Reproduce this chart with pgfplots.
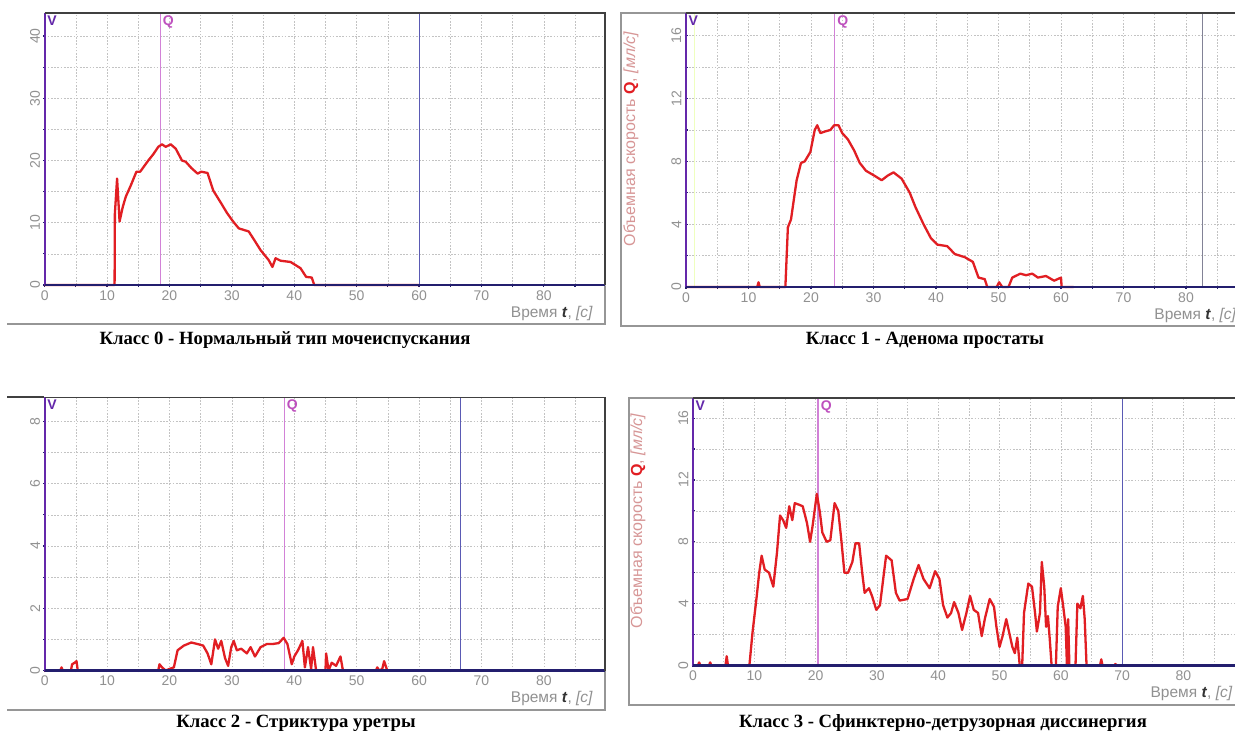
\documentclass[border=0pt]{standalone}
\usepackage{fontspec}
\setmainfont{Liberation Serif}
\newfontfamily\arial{Liberation Sans}
\usepackage{pgfplots}
\pgfplotsset{compat=1.18}
\definecolor{axpurple}{RGB}{100,40,170}
\definecolor{axnavy}{RGB}{35,30,110}
\definecolor{curvec}{RGB}{225,30,35}
\definecolor{qline}{RGB}{210,130,215}
\definecolor{qtext}{RGB}{190,80,190}
\definecolor{vline}{RGB}{90,90,180}
\definecolor{gline}{RGB}{130,130,150}
\definecolor{ticktext}{RGB}{145,145,145}
\definecolor{ylab}{RGB}{215,150,150}
\definecolor{gridc}{RGB}{195,195,195}
\definecolor{framec}{RGB}{150,150,150}

\pgfplotsset{
  uro/.style={
    scale only axis, clip=false,
    xmin=0, ymin=0,
    axis line style={draw=none},
    xtick distance=10, minor x tick num=1,
    minor y tick num=1,
    tick pos=left, tick align=center,
    major tick length=3pt, minor tick length=3pt,
    every tick/.style={axnavy, line width=1.2pt},
    grid=both,
    major grid style={gridc, dash pattern=on 1.6pt off 1.6pt, line width=0.6pt},
    minor grid style={gridc, dash pattern=on 1.6pt off 1.6pt, line width=0.6pt},
    /pgf/number format/assume math mode=true,
    ticklabel style={font=\arial\fontsize{14}{14}\selectfont, text=ticktext},
    yticklabel style={rotate=90, anchor=south, inner sep=3pt},
    xticklabel style={inner sep=2pt},
    x tick label style={yshift=-2pt},
  },
  curve/.style={curvec, line width=2.3pt, line join=round, no marks},
}
\newcommand{\decor}{%
  \draw[axpurple, line width=2.2pt] (rel axis cs:0,0) -- (rel axis cs:0,1);
  \draw[axnavy, line width=2.4pt] (rel axis cs:0,0) -- (rel axis cs:1,0);
  \draw[black!75, line width=1.5pt] (rel axis cs:0,1) -- (rel axis cs:1,1) -- (rel axis cs:1,0);
  \node[anchor=north west, text=axpurple, font=\arial\bfseries\fontsize{14}{14}\selectfont, inner sep=2.5pt] at (rel axis cs:0,1) {V};
  \node[anchor=north east, text=ticktext, font=\arial\fontsize{15.5}{16}\selectfont, inner sep=0pt] at ([xshift=-12pt,yshift=-21pt]rel axis cs:1,0) {Время \textcolor{black!80}{\textbf{\textit{t}}}, \textit{[с]}};
}
\newcommand{\ylabnode}[1]{%
  \node[rotate=90, text=ylab, font=\arial\fontsize{16}{17}\selectfont, inner sep=0pt] at ([xshift=-55pt]rel axis cs:0,#1) {Объемная скорость \textcolor{curvec}{\textbf{Q}}, \textit{[мл/с]}};
}

\begin{document}
\begin{tikzpicture}
\useasboundingbox (0,0) rectangle (1235pt,-733pt);
\clip (0,0) rectangle (1235pt,-733pt);
\fill[white] (0,0) rectangle (1235pt,-733pt);

% frames
\draw[framec, line width=1.2pt] (7pt,-324pt) -- (605pt,-324pt) -- (605pt,-13pt);
\draw[framec, line width=1.2pt] (1240pt,-326pt) -- (621pt,-326pt) -- (621pt,-13pt) -- (686pt,-13pt);
\draw[framec, line width=1.2pt] (7pt,-710pt) -- (605pt,-710pt) -- (605pt,-397pt);
\draw[black!75, line width=1.5pt] (7pt,-397pt) -- (44pt,-397pt);
\draw[framec, line width=1.2pt] (1240pt,-705pt) -- (629pt,-705pt) -- (629pt,-398pt) -- (693pt,-398pt);

% captions
\node[font=\fontsize{18.7}{21}\selectfont\bfseries] at (285pt,-340pt) {Класс 0 - Нормальный тип мочеиспускания};
\node[font=\fontsize{18.7}{21}\selectfont\bfseries] at (925pt,-340pt) {Класс 1 - Аденома простаты};
\node[font=\fontsize{18.7}{21}\selectfont\bfseries] at (296pt,-723pt) {Класс 2 - Стриктура уретры};
\node[font=\fontsize{18.7}{21}\selectfont\bfseries] at (943pt,-723pt) {Класс 3 - Сфинктерно-детрузорная диссинергия};

% ---------- Class 0 ----------
\begin{axis}[uro, at={(44.7pt,-285pt)}, anchor=south west,
  width=560.3pt, height=272pt, xmax=89.8, ymax=43.7,
  ytick distance=10]
\addplot[qline, line width=1.2pt] coordinates {(18.5,0) (18.5,43.7)};
\addplot[vline, line width=1pt] coordinates {(60,0) (60,43.7)};
\addplot[curve] coordinates {
(0,0) (11.2,0) (11.25,11.5) (11.6,17.1) (12.0,10.2) (12.5,12.5) (13.0,14.2) (13.8,16.0)
(14.7,18.2) (15.3,18.2) (16.6,20.0) (17.4,21.0) (18.2,22.2) (18.8,22.6) (19.4,22.2)
(20.2,22.6) (21.0,21.9) (22.0,20.0) (22.6,19.8) (23.5,18.8) (24.5,17.9) (25.1,18.2)
(26.1,18.0) (27.0,15.2) (28.3,13.1) (29.2,11.6) (30.2,10.2) (31.1,9.1) (32.7,8.6)
(33.6,7.2) (34.6,5.6) (35.9,4.0) (36.5,2.9) (37.0,4.3) (37.8,3.9) (39.4,3.7)
(41.0,2.7) (41.9,1.3) (42.8,1.2) (43.2,0) (60,0)};
\node[anchor=north west, text=qtext, font=\arial\bfseries\fontsize{14}{14}\selectfont, inner sep=2.5pt] at (axis cs:18.5,43.7) {Q};
\decor
\end{axis}

% ---------- Class 1 ----------
\begin{axis}[uro, at={(686pt,-287pt)}, anchor=south west,
  width=562.5pt, height=274pt, xmax=90, ymax=17.45,
  ytick distance=4]
\addplot[green!25!yellow!25!white, line width=0.8pt] coordinates {(1.3,0) (1.3,17.45)};
\addplot[qline, line width=1.2pt] coordinates {(23.8,0) (23.8,17.45)};
\addplot[gline, line width=1pt] coordinates {(82.7,0) (82.7,17.45)};
\addplot[curve] coordinates {
(0,0) (11.4,0) (11.6,0.3) (11.8,0) (15.9,0) (16.3,3.8) (16.8,4.3) (17.7,6.8) (18.4,7.9)
(19.0,8.0) (19.9,8.6) (20.6,10.0) (21.0,10.3) (21.5,9.8) (22.2,9.9) (23.1,10.0)
(23.7,10.3) (24.4,10.3) (25.0,9.8) (25.9,9.4) (26.9,8.7) (27.8,7.9) (28.8,7.4)
(30.1,7.1) (31.3,6.8) (32.3,7.1) (33.2,7.3) (34.5,6.9) (35.8,6.0) (36.7,5.1)
(38.0,4.0) (39.2,3.1) (40.2,2.7) (41.8,2.6) (43.0,2.1) (44.6,1.9) (45.9,1.6)
(46.8,0.6) (47.8,0.5) (48.2,0) (49.7,0) (50.1,0.3) (50.6,0) (51.6,0) (52.2,0.6)
(53.5,0.85) (54.4,0.75) (55.4,0.85) (56.3,0.6) (57.6,0.7) (58.9,0.4) (60.0,0.6) (60.1,0) (62,0)};
\node[anchor=north west, text=qtext, font=\arial\bfseries\fontsize{14}{14}\selectfont, inner sep=2.5pt] at (axis cs:23.8,17.45) {Q};
\decor
\ylabnode{0.54}
\end{axis}

% ---------- Class 2 ----------
\begin{axis}[uro, at={(44.7pt,-670.5pt)}, anchor=south west,
  width=560.3pt, height=273pt, xmax=89.8, ymax=8.77,
  ytick distance=2]
\addplot[qline, line width=1.2pt] coordinates {(38.4,0) (38.4,8.77)};
\addplot[vline, line width=1pt] coordinates {(66.6,0) (66.6,8.77)};
\addplot[curve] coordinates {
(0,0) (2.5,0) (2.7,0.1) (2.9,0) (4.2,0) (4.4,0.2) (4.8,0.25) (5.1,0.3) (5.3,0) (18.2,0)
(18.4,0.2) (18.8,0.1) (19.4,0) (20.0,0.05) (20.7,0.1) (21.3,0.65) (22.3,0.8) (23.5,0.9)
(24.5,0.85) (25.4,0.8) (26.1,0.55) (26.7,0.2) (27.3,1.0) (27.8,0.7) (28.3,0.95)
(28.9,0.4) (29.4,0.15) (29.9,0.75) (30.3,0.95) (30.8,0.65) (31.5,0.7) (32.4,0.55)
(33.0,0.75) (33.7,0.45) (34.6,0.75) (35.6,0.85) (36.5,0.85) (37.5,0.88) (38.3,1.05)
(38.9,0.85) (39.6,0.2) (40.0,0.45) (40.6,0.65) (41.3,0.95) (41.7,0.1) (42.2,0.75)
(42.7,0.05) (43.0,0.75) (43.5,0) (45.0,0) (45.1,0.55) (45.5,0) (46.0,0.25) (46.7,0.15)
(47.4,0.45) (47.8,0) (53.1,0) (53.3,0.1) (53.6,0) (54.1,0.05) (54.4,0.3) (54.9,0) (56,0)};
\node[anchor=north west, text=qtext, font=\arial\bfseries\fontsize{14}{14}\selectfont, inner sep=2.5pt] at (axis cs:38.4,8.77) {Q};
\decor
\end{axis}

% ---------- Class 3 ----------
\begin{axis}[uro, at={(693pt,-665.5pt)}, anchor=south west,
  width=551.7pt, height=267.5pt, xmax=90, ymax=17.3,
  ytick distance=4]
\addplot[qline, line width=1.2pt] coordinates {(20.4,0) (20.4,17.3)};
\addplot[vline, line width=1pt] coordinates {(70,0) (70,17.3)};
\addplot[curve] coordinates {
(0,0) (0.8,0) (1.0,0.2) (1.2,0) (2.6,0) (2.8,0.2) (3.0,0) (5.3,0) (5.5,0.6) (5.7,0)
(9.2,0) (9.7,2.1) (10.4,4.5) (10.8,6.0) (11.2,7.1) (11.7,6.2) (12.4,6.0) (13.1,5.1)
(13.7,7.3) (14.2,9.7) (14.7,9.4) (15.2,8.9) (15.7,10.3) (16.2,9.4) (16.6,10.5)
(17.3,10.4) (17.9,10.3) (18.6,9.2) (19.1,8.0) (19.5,9.0) (20.2,11.1) (20.7,9.9)
(21.1,8.6) (21.8,8.0) (22.4,8.1) (23.1,10.5) (23.7,10.0) (24.2,8.1) (24.7,6.0)
(25.3,6.0) (26.0,6.7) (26.5,7.9) (27.1,7.9) (27.6,6.0) (28.0,4.7) (28.7,5.0)
(29.2,4.5) (29.9,3.6) (30.5,3.9) (31.5,7.1) (32.4,6.8) (33.1,4.7) (33.7,4.2)
(35.0,4.3) (36.0,5.6) (36.8,6.5) (37.6,5.6) (38.6,5.0) (39.5,6.1) (40.2,5.6)
(40.8,3.9) (41.5,3.1) (42.1,3.4) (42.6,4.1) (43.3,3.4) (43.9,2.3) (44.6,3.4)
(45.2,4.5) (45.8,3.6) (46.5,3.4) (47.1,1.9) (47.6,3.0) (48.4,4.3) (49.1,3.8)
(49.5,2.5) (50.0,1.2) (50.5,1.9) (51.1,3.0) (51.6,2.1) (52.1,1.2) (52.5,0.8)
(52.9,1.8) (53.3,0) (53.7,0) (54.0,3.4) (54.7,5.3) (55.3,5.1) (55.8,3.4) (56.1,2.2)
(56.6,3.4) (56.9,6.7) (57.3,5.1) (57.6,2.5) (57.9,3.2) (58.2,1.7) (58.5,0) (59.2,0)
(59.5,3.8) (60.0,5.0) (60.4,3.8) (60.8,2.5) (61.0,0) (61.2,3.0) (61.4,0) (62.4,0)
(62.7,4.0) (63.2,3.7) (63.6,4.5) (63.9,3.0) (64.2,0) (66.4,0) (66.6,0.4) (66.8,0)
(68.8,0) (68.9,0.1) (69.1,0) (71,0)};
\node[anchor=north west, text=qtext, font=\arial\bfseries\fontsize{14}{14}\selectfont, inner sep=2.5pt] at (axis cs:20.4,17.3) {Q};
\decor
\ylabnode{0.54}
\end{axis}
\end{tikzpicture}
\end{document}
